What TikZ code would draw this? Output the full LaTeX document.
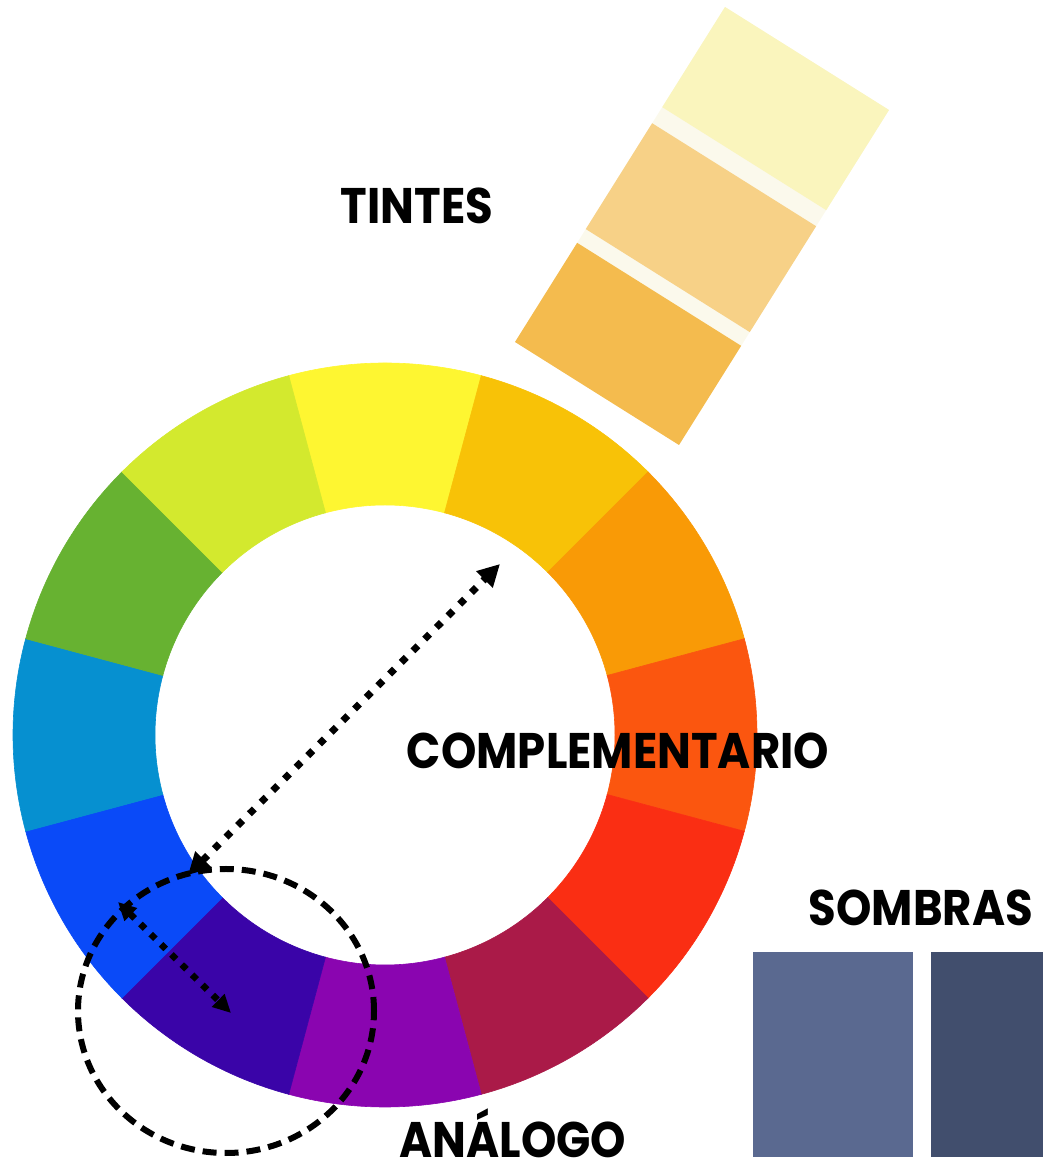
\documentclass[tikz,border=0pt]{standalone}
\usepackage{fontspec}
\setmainfont{Poppins}[FakeStretch=0.9]
\usetikzlibrary{calc, arrows.meta}
\definecolor{wYellow}{HTML}{FEF631}
\definecolor{wYellowOrange}{HTML}{F8C207}
\definecolor{wOrange}{HTML}{F99A06}
\definecolor{wRedOrange}{HTML}{FB560F}
\definecolor{wRed}{HTML}{FA2E13}
\definecolor{wRedViolet}{HTML}{AA1A48}
\definecolor{wViolet}{HTML}{8A05B0}
\definecolor{wBlueViolet}{HTML}{3A04A8}
\definecolor{wBlue}{HTML}{0A4AF8}
\definecolor{wCyan}{HTML}{0690D0}
\definecolor{wGreen}{HTML}{67B231}
\definecolor{wYellowGreen}{HTML}{D3E92E}
\definecolor{tintGap}{HTML}{FBF9EC}
\definecolor{tintLight}{HTML}{FAF5BD}
\definecolor{tintMid}{HTML}{F7D187}
\definecolor{tintDark}{HTML}{F4BB4E}
\definecolor{shadeLight}{HTML}{5A6990}
\definecolor{shadeDark}{HTML}{414E6D}
\tikzset{
  lbl/.style={font=\fontsize{50}{50}\selectfont\bfseries, text=black, inner sep=0pt},
  dotline/.style={line width=7pt, dash pattern=on 7pt off 9.5pt},
}

\begin{document}
\begin{tikzpicture}[x=1pt,y=1pt]
\useasboundingbox (0,0) rectangle (1043,1161);
\coordinate (O) at (385,426);
% color wheel
\foreach \a/\c in {90/wYellow, 60/wYellowOrange, 30/wOrange, 0/wRedOrange, -30/wRed, -60/wRedViolet, -90/wViolet, -120/wBlueViolet, -150/wBlue, 180/wCyan, 150/wGreen, 120/wYellowGreen}
{
  \fill[\c, draw=\c, line width=0.6pt] ($(O)+(\a-15:372)$) arc[start angle=\a-15, end angle=\a+15, radius=372pt]
    -- ($(O)+(\a+15:230)$) arc[start angle=\a+15, end angle=\a-15, radius=230pt] -- cycle;
}
% tints
\coordinate (tA) at (725,1154);
\coordinate (tB) at (889,1051);
\coordinate (tC) at (679,716);
\coordinate (tD) at (515,819);
\fill[tintGap] (tA)--(tB)--(tC)--(tD)--cycle;
\foreach \s/\e/\c in {0/0.299/tintLight, 0.347/0.663/tintMid, 0.704/1/tintDark}
  \fill[\c] ($(tA)!\s!(tD)$) -- ($(tB)!\s!(tC)$) -- ($(tB)!\e!(tC)$) -- ($(tA)!\e!(tD)$) -- cycle;
% shades
\fill[shadeLight] (753,4) rectangle (913,209);
\fill[shadeDark] (931,4) rectangle (1043,209);
% analogous
\draw[line width=6pt, dash pattern=on 14pt off 8pt] (226,150) ellipse[x radius=148pt, y radius=142pt];
\coordinate (c1) at (188,286);
\coordinate (c2) at (500,597);
\draw[dotline, {Triangle[length=22pt,width=22pt]}-{Triangle[length=22pt,width=22pt]}] (c1) -- (c2);
\coordinate (a1) at (118,259);
\coordinate (a2) at (231,148);
\draw[dotline, line width=6.5pt, dash pattern=on 6.5pt off 8pt, {Triangle[length=18pt,width=17pt]}-{Triangle[length=18pt,width=17pt]}] (a1) -- (a2);
% labels
\node[lbl] (tintes) at (417,955) {TINTES};
\node[lbl] (compl) at (618,410) {COMPLEMENTARIO};
\node[lbl] (sombras) at (921,253) {SOMBRAS};
\node[lbl, anchor=base] (analogo) at (513,4) {ANÁLOGO};
\end{tikzpicture}
\end{document}
